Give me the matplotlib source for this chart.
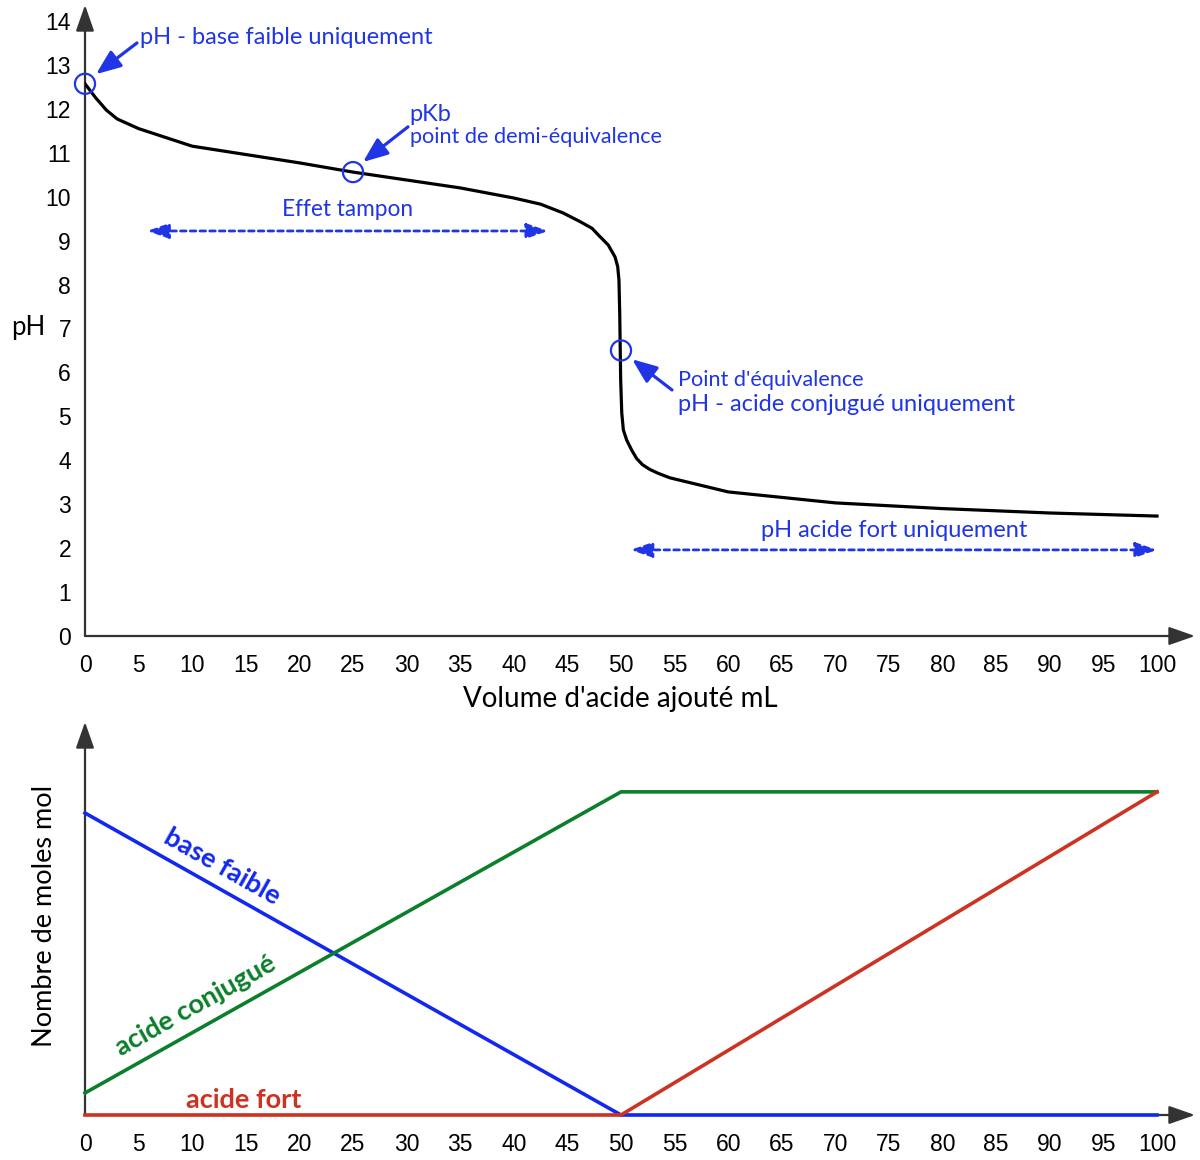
import numpy as np, matplotlib
matplotlib.use("Agg")
import matplotlib.pyplot as plt

plt.rcParams["font.family"] = ["Lato", "DejaVu Sans"]

# --- data ---
vol = [0, 1, 2, 3, 5, 10, 20, 25, 30, 35, 40, 42.5, 44.6, 46.2, 47.3, 48.04, 48.81,
       49.44, 49.69, 49.81, 49.88, 49.97, 50.07, 50.22, 50.53, 51.0, 51.46, 52.0,
       52.7, 53.5, 54.57, 60, 70, 80, 90, 100]
ph = [12.57, 12.25, 11.97, 11.77, 11.55, 11.15, 10.77, 10.56, 10.38, 10.2, 9.97,
      9.83, 9.63, 9.43, 9.28, 9.09, 8.90, 8.63, 8.41, 8.10, 7.35, 5.83, 5.08, 4.69,
      4.46, 4.23, 4.04, 3.9, 3.79, 3.7, 3.6, 3.28, 3.03, 2.9, 2.8, 2.73]
pts_x = [0, 25, 50]
pts_ph = [12.57, 10.56, 6.5]

vol_m = [0, 50, 100]
base_faible = [1.0, 0.0, 0.0]
acide_conj = [0.073, 1.07, 1.07]
acide_fort = [0.0, 0.0, 1.07]

xticks = list(range(0, 101, 5))
yticks = list(range(0, 15))

BLUE_T = "#1f35e6"
AX = "#333333"
TICKFONT = "Liberation Sans"

fig = plt.figure(figsize=(12, 11.6), dpi=100)
W, H = 1200, 1160
pxx = 10.72  # px per mL

def axis_arrows(ax):
    for s in ax.spines.values():
        s.set_visible(False)
    kw = dict(arrowstyle="-|>,head_length=1.0,head_width=0.35", color=AX, lw=1.6,
              shrinkA=0, shrinkB=0, mutation_scale=16)
    ax.annotate("", xy=(1, 0), xytext=(0, 0), xycoords="axes fraction", arrowprops=kw)
    ax.annotate("", xy=(0, 1), xytext=(0, 0), xycoords="axes fraction", arrowprops=kw)

# ===== top: pH curve =====
ax = fig.add_axes([85 / W, 1 - 636 / H, (1195 - 85) / W, (636 - 5) / H])
ax.set_xlim(0, (1195 - 85) / pxx)
ax.set_ylim(0, (636 - 5) / 43.93)
axis_arrows(ax)
ax.plot(vol, ph, color="black", lw=2.3, solid_joinstyle="round", zorder=3)
ax.scatter(pts_x, pts_ph, s=210, facecolors="none", edgecolors=BLUE_T, lw=1.6,
           zorder=4, clip_on=False)
ax.set_xticks(xticks)
ax.set_yticks(yticks)
ax.tick_params(axis="x", length=0, labelsize=16.5, pad=13)
ax.tick_params(axis="y", length=0, labelsize=16.5, pad=10)
for lab in ax.get_xticklabels() + ax.get_yticklabels():
    lab.set_fontfamily(TICKFONT)
ax.set_ylabel("pH", fontsize=18.5, rotation=0, va="center", ha="center")
ax.yaxis.set_label_coords(-57 / 1110, (636 - 327) / 631)
ax.set_xlabel("Volume d'acide ajouté mL", fontsize=20)
ax.xaxis.set_label_coords((620 - 85) / 1110, -(699 - 636) / 631)
ax.xaxis.label.set_va("center")

arr = dict(arrowstyle="-|>,head_length=1.0,head_width=0.4", color=BLUE_T, lw=2.3,
           shrinkA=0, shrinkB=0, mutation_scale=15)
ax.annotate("", xy=(1.03, 12.79), xytext=(4.85, 13.5), arrowprops=arr)
ax.annotate("", xy=(25.93, 10.79), xytext=(30.13, 11.59), arrowprops=arr)
ax.annotate("", xy=(51.03, 6.3), xytext=(54.76, 5.6), arrowprops=arr)

darr = dict(arrowstyle="<|-|>,head_length=1.0,head_width=0.35", color=BLUE_T, lw=2,
            ls=(0, (2, 1.5)), shrinkA=0, shrinkB=0, mutation_scale=13)
ax.annotate("", xy=(43.2, 9.22), xytext=(5.8, 9.22), arrowprops=darr)
ax.annotate("", xy=(100, 1.96), xytext=(50.9, 1.96), arrowprops=darr)

ax.text(5.13, 13.63, "pH - base faible uniquement", color=BLUE_T, fontsize=17, va="center")
ax.text(30.3, 11.88, "pKb", color=BLUE_T, fontsize=17, va="center")
ax.text(30.3, 11.36, "point de demi-équivalence", color=BLUE_T, fontsize=15.6, va="center")
ax.text(24.5, 9.7, "Effet tampon", color=BLUE_T, fontsize=16.3, va="center", ha="center")
ax.text(55.3, 5.83, "Point d'équivalence", color=BLUE_T, fontsize=15.6, va="center")
ax.text(55.3, 5.28, "pH - acide conjugué uniquement", color=BLUE_T, fontsize=17, va="center")
ax.text(75.5, 2.41, "pH acide fort uniquement", color=BLUE_T, fontsize=17, va="center", ha="center")

# ===== bottom: moles =====
pxy = 302.0
bx = fig.add_axes([85 / W, 1 - 1115 / H, (1195 - 85) / W, (1115 - 722) / H])
bx.set_xlim(0, (1195 - 85) / pxx)
bx.set_ylim(0, (1115 - 722) / pxy)
axis_arrows(bx)
bx.plot(vol_m, base_faible, color="#1228f0", lw=2.6, zorder=3, clip_on=False)
bx.plot(vol_m, acide_conj, color="#0b7f2b", lw=2.6, zorder=3, clip_on=False)
bx.plot(vol_m, acide_fort, color="#cc3322", lw=2.6, zorder=3, clip_on=False)
bx.set_xticks(xticks)
bx.set_yticks([])
bx.tick_params(length=0, labelsize=16.5, pad=13)
for lab in bx.get_xticklabels():
    lab.set_fontfamily(TICKFONT)
bx.set_ylabel("Nombre de moles mol", fontsize=19.5, va="center")
bx.yaxis.set_label_coords(-40 / 1110, (1115 - 916) / 393)

bx.text(12.8, 0.822, "base faible", color="#1228f0", fontsize=19.5, fontweight="bold",
        rotation=-29.4, rotation_mode="anchor", ha="center", va="center")
bx.text(10.3, 0.362, "acide conjugué", color="#0b7f2b", fontsize=19.5, fontweight="bold",
        rotation=29.3, rotation_mode="anchor", ha="center", va="center")
bx.text(14.8, 0.05, "acide fort", color="#cc3322", fontsize=19.5, fontweight="bold",
        ha="center", va="center")

fig.savefig("out.png", dpi=100)
